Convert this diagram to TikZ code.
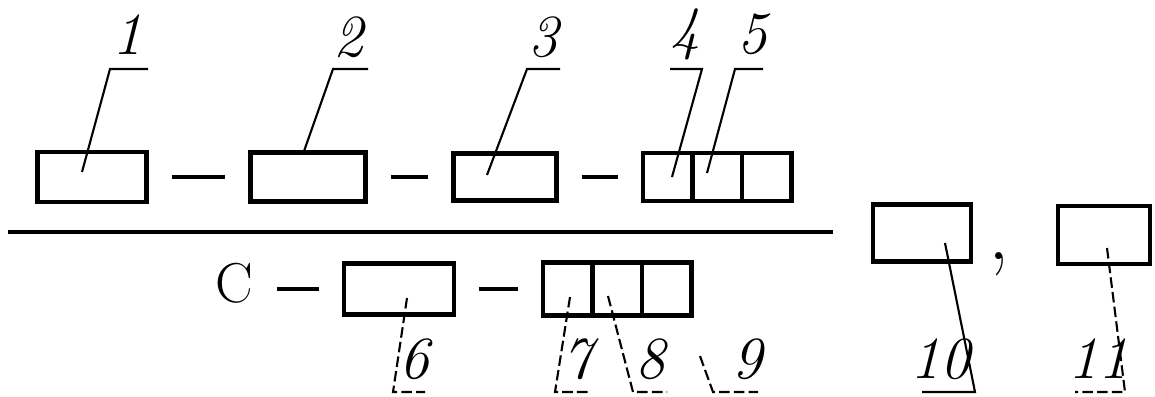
\documentclass[tikz,border=0pt]{standalone}
\begin{document}
\begin{tikzpicture}[x=0.01cm, y=-0.01cm,
  box/.style={draw, line width=1.3pt, inner sep=0pt},
  link/.style={line width=1.1pt, shorten <=0.23cm, shorten >=0.23cm},
  leader/.style={line width=0.6pt},
  broken/.style={line width=0.6pt, dash pattern=on 3pt off 1.2pt},
  num/.style={font=\fontsize{17}{20}\selectfont\itshape, inner sep=0pt}]
  \useasboundingbox (0,0) rectangle (1155,396);

  % Upper row
  \node[box, minimum width=1.09cm, minimum height=0.50cm] (b1) at (92,177) {};
  \node[box, minimum width=1.15cm, minimum height=0.49cm] (b2) at (308,177) {};
  \node[box, minimum width=1.03cm, minimum height=0.47cm] (b3) at (505,177) {};
  \foreach \i in {0,1,2}
    \node[box, minimum width=0.495cm, minimum height=0.48cm] (top\i) at ({667.75+49.5*\i},177) {};

  \draw[link] (b1.east) -- (b2.west);
  \draw[link] (b2.east) -- (b3.west);
  \draw[link] (b3.east) -- (top0.west);

  % Fraction bar
  \coordinate (barL) at (8,232);
  \coordinate (barR) at (833,232);
  \draw[line width=1pt] (barL) -- (barR);

  % Lower row
  \node[num, font=\fontsize{16}{18}\selectfont] (cC) at (234,283) {C};
  \node[box, minimum width=1.10cm, minimum height=0.51cm] (b6) at (399,289) {};
  \foreach \i in {0,1,2}
    \node[box, minimum width=0.495cm, minimum height=0.53cm] (bot\i) at ({567.75+49.5*\i},289) {};

  \draw[link] (b6.west -| cC.east) -- (b6.west);
  \draw[link] (b6.east) -- (bot0.west);

  % Right part
  \node[num, font=\fontsize{24}{24}\selectfont, anchor=base] (comma) at (999,259) {,};
  \node[box, minimum width=0.98cm, minimum height=0.57cm] (b10) at (922,233) {};
  \node[box, minimum width=0.92cm, minimum height=0.58cm] (b11) at (1104,235) {};

  % Upper leaders
  \foreach \n/\tx/\ty/\kx/\ex/\lx/\ly in {1/82/172/110/148/127/35, 2/303/154/333/368/348/37,
      3/487/175/527/560/543/37, 4/672/177/702/670/685/34, 5/707/173/735/763/752/34} {
    \node[num] (n\n) at (\lx,\ly) {\n};
    \coordinate (t\n) at (\tx,\ty);
    \draw[leader] (t\n) -- (\kx,69) -- (\ex,69);
  }

  % Lower leaders
  \foreach \n/\tx/\ty/\kx/\ex/\lx/\s in {6/407/298/393/425/414/broken, 7/570/297/555/588/577/broken,
      8/608/296/633/667/650/broken, 9/700/356/713/758/747/broken,
      10/945/243/975/922/940/leader, 11/1107/248/1125/1075/1098/broken} {
    \node[num] (n\n) at (\lx,359) {\n};
    \coordinate (t\n) at (\tx,\ty);
    \draw[\s] (t\n) -- (\kx,392) -- (\ex,392);
  }
\end{tikzpicture}
\end{document}
